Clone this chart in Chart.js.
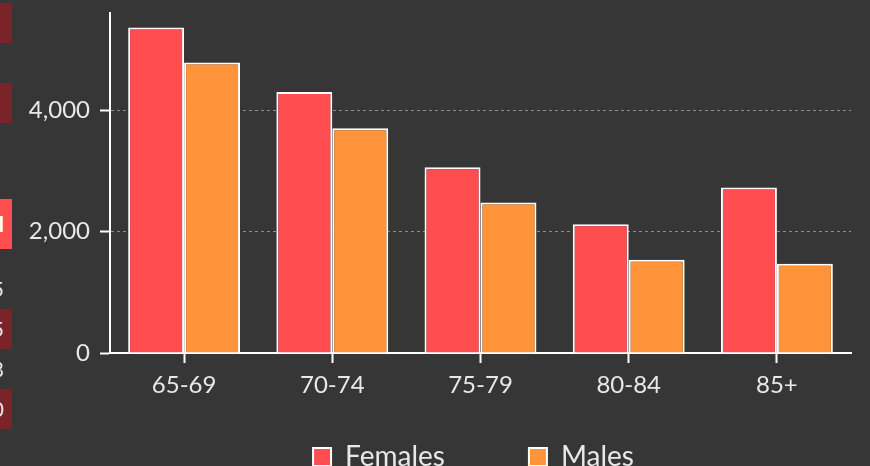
<!DOCTYPE html>
<html>
<head>
<meta charset="utf-8">
<title>Population 65+ by age and sex</title>
<script src="https://cdn.jsdelivr.net/npm/chart.js@4.4.0/dist/chart.umd.min.js"></script>
<style>
    html, body {
        margin: 0;
        padding: 0;
        background: #363636;
        overflow: hidden;
    }
    #wrap {
        position: relative;
        width: 870px;
        height: 481px;
    }
    #chart {
        position: absolute;
        left: 0;
        top: 0;
    }
    /* обрезанный кусок соседней таблицы слева */
    .side {
        position: absolute;
        left: -60px;
        width: 72px;
        height: 40px;
        line-height: 40px;
        text-align: right;
        box-sizing: border-box;
        font-family: Lato, sans-serif;
        font-size: 21px;
        color: #e6e6e6;
        overflow: hidden;
    }
    .side span { position: relative; right: 8px; }
    .dark { background: #7a2329; }
    .head { background: #ff4d50; color: #fff; font-weight: bold; height: 50px; line-height: 50px; }
</style>
</head>
<body>
<div id="wrap">
    <canvas id="chart" width="870" height="481"></canvas>
    <div class="side dark" style="top:3px"></div>
    <div class="side dark" style="top:83px"></div>
    <div class="side head" style="top:199px"><span>Total</span></div>
    <div class="side" style="top:269px"><span>35</span></div>
    <div class="side dark" style="top:309px"><span>25</span></div>
    <div class="side" style="top:349px"><span>18</span></div>
    <div class="side dark" style="top:389px"><span>10</span></div>
</div>
<script>
// Данные
const ageGroups = ['65-69', '70-74', '75-79', '80-84', '85+'];
const females = [5360, 4300, 3060, 2120, 2725];
const males = [4785, 3700, 2480, 1535, 1470];
const yTickValues = [0, 2000, 4000];

const FEMALE_COLOR = '#ff4d50';
const MALE_COLOR = '#ff943a';
const TEXT_COLOR = '#e8e8e8';

Chart.defaults.font.family = 'Lato, "Open Sans", sans-serif';
Chart.defaults.color = TEXT_COLOR;

function initChart() {
    const ctx = document.getElementById('chart').getContext('2d');

    new Chart(ctx, {
        type: 'bar',
        data: {
            labels: ageGroups,
            datasets: [{
                label: 'Females',
                data: females,
                backgroundColor: FEMALE_COLOR,
                borderColor: '#ffffff',
                borderWidth: 2
            }, {
                label: 'Males',
                data: males,
                backgroundColor: MALE_COLOR,
                borderColor: '#ffffff',
                borderWidth: 2
            }]
        },
        options: {
            responsive: false,
            animation: false,
            devicePixelRatio: 1,
            barPercentage: 1,
            categoryPercentage: 0.755,
            layout: {
                padding: { top: 13, right: 19, bottom: 0, left: 0 }
            },
            plugins: {
                tooltip: { enabled: false },
                legend: {
                    position: 'bottom',
                    fullSize: false,
                    labels: {
                        color: TEXT_COLOR,
                        boxWidth: 18,
                        boxHeight: 18,
                        padding: 14,
                        font: { size: 28 },
                        // пробелы после подписей: широкий промежуток и сдвиг легенды влево
                        generateLabels: function(chart) {
                            const items = Chart.defaults.plugins.legend.labels.generateLabels(chart);
                            items.forEach(function(item, i) {
                                item.text += (i < items.length - 1) ? '\u2003\u2003\u2002\u2002' : '\u2002';
                            });
                            return items;
                        }
                    }
                }
            },
            scales: {
                x: {
                    grid: {
                        offset: false,
                        drawOnChartArea: false,
                        drawTicks: true,
                        tickLength: 10,
                        tickColor: '#ffffff',
                        tickWidth: 2
                    },
                    border: {
                        color: '#ffffff',
                        width: 2
                    },
                    ticks: {
                        color: TEXT_COLOR,
                        padding: 8,
                        font: { size: 24 }
                    },
                    afterFit: function(scale) {
                        scale.height = 76;
                    }
                },
                y: {
                    min: 0,
                    max: 5600,
                    afterBuildTicks: function(scale) {
                        scale.ticks = yTickValues.map(v => ({ value: v }));
                    },
                    afterFit: function(scale) {
                        scale.width = 110;
                        scale.paddingTop = 0;
                        scale.paddingBottom = 0;
                    },
                    grid: {
                        color: function(c) {
                            return c.tick && c.tick.value === 0 ? 'rgba(0,0,0,0)' : '#8f8f8f';
                        },
                        lineWidth: 1,
                        tickLength: 10,
                        tickColor: '#ffffff',
                        tickWidth: 2
                    },
                    border: {
                        color: '#ffffff',
                        width: 2,
                        dash: [3, 3]
                    },
                    ticks: {
                        color: TEXT_COLOR,
                        padding: 10,
                        font: { size: 24 },
                        callback: function(value) {
                            return value.toLocaleString('en-US');
                        }
                    }
                }
            }
        }
    });
}

initChart();
</script>
</body>
</html>
